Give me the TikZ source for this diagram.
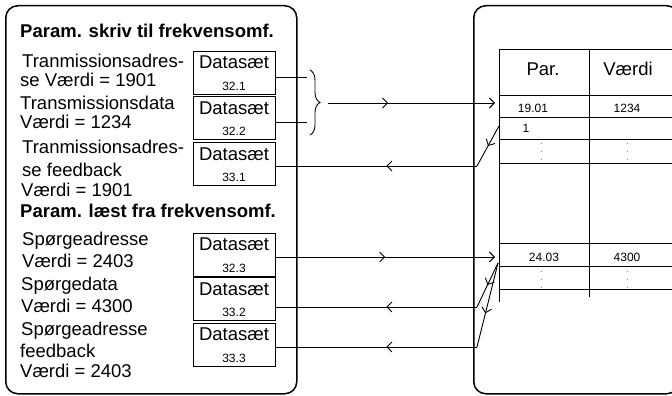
\documentclass[tikz,border=0pt]{standalone}
\usepackage{fontspec}
\setmainfont{Liberation Sans}
\usetikzlibrary{arrows.meta,decorations.pathreplacing,decorations.markings}
\tikzstyle{panel}=[draw,line width=1.5pt,rounded corners=12pt,inner sep=0pt]
\tikzstyle{dataset}=[draw,line width=0.9pt,minimum width=82pt,minimum height=43pt,inner sep=0pt]
\tikzstyle{txt}=[anchor=base west,inner sep=0pt,font=\fontsize{18.5}{20}\selectfont]
\tikzstyle{headtxt}=[txt,font=\fontsize{18.5}{20}\selectfont\bfseries]
\tikzstyle{big}=[anchor=base,inner sep=0pt,font=\fontsize{18.5}{20}\selectfont]
\tikzstyle{numtxt}=[anchor=base,inner sep=0pt,font=\fontsize{12}{14}\selectfont]
\tikzstyle{tabline}=[draw,line width=0.9pt]
\tikzstyle{vdots}=[draw=gray,line width=0.8pt,dash pattern=on 0.8pt off 7pt]
\tikzstyle{endarrow}=[-{Straight Barb[length=5pt,width=10pt]}]
\tikzset{flow/.style={draw,line width=0.9pt,postaction={decorate},
    decoration={markings,mark=at position #1 with {\arrow{Straight Barb[length=5pt,width=10pt]}}}},
  flow/.default=0.5}

\begin{document}
\begin{tikzpicture}[x=1pt,y=-1pt]
    \useasboundingbox (0,0) rectangle (672,396);
    \clip (0,0) rectangle (672,396);

    % The two panels, the right one runs off the page
    \node[panel,anchor=north west,minimum width=291pt,minimum height=388pt] (drive) at (5,5) {};
    \node[panel,anchor=north west,minimum width=205pt,minimum height=388pt] (plc) at (473,5) {};

    % Texts of the left panel
    \node[headtxt] (wtitle) at (20,38) {Param. skriv til frekvensomf.};
    \node[headtxt] (rtitle) at (20,217) {Param. læst fra frekvensomf.};
    \foreach \pos/\name/\txt in {{(22,67)/w1/Tranmissionsadres-}, {(20,86)/w2/se Værdi = 1901},
        {(20,110)/w3/Transmissionsdata}, {(20,128)/w4/Værdi = 1234},
        {(22,153)/w5/Tranmissionsadres-}, {(22,176)/w6/se feedback}, {(21,196)/w7/Værdi = 1901},
        {(22,245)/r1/Spørgeadresse}, {(22,267)/r2/Værdi = 2403},
        {(21,290)/r3/Spørgedata}, {(21,312)/r4/Værdi = 4300},
        {(21,335)/r5/Spørgeadresse}, {(20,357)/r6/feedback}, {(20,377)/r7/Værdi = 2403}}
        \node[txt] (\name) at \pos {\txt};

    % Data set boxes
    \foreach \y/\name/\num in {72.5/d321/32.1, 118/d322/32.2, 164/d331/33.1,
        254.5/d323/32.3, 299/d332/33.2, 344.5/d333/33.3} {
        \node[dataset] (\name) at (234,\y) {};
        \node[big] (\name-a) at (234,\y-4) {Datasæt};
        \node[numtxt] (\name-b) at (234,\y+17.5) {\num};
    }

    % Parameter table
    \foreach \y in {49,95,117,139,163,243,266,289}
        \draw[tabline] (499,\y) -- (680,\y);
    \draw[tabline] (499,49) -- (499,302);
    \draw[tabline] (589,49) -- (589,297);
    \node[big] (par) at (543,75) {Par.};
    \node[big] (vaerdi) at (628,75) {Værdi};
    \foreach \pos/\name/\txt in {{(533,112)/p1901/19.01}, {(627,112)/v1901/1234}, {(526,132)/p1/1},
        {(544,261)/p2403/24.03}, {(627,261)/v2403/4300}}
        \node[numtxt] (\name) at \pos {\txt};
    \foreach \x/\y in {541/143, 627/143, 541/271, 627/271}
        \draw[vdots] (\x,\y) -- (\x,\y+17);

    % Points where the connectors bend or end
    \coordinate (b1) at (307,77);
    \coordinate (b2) at (307,122);
    \coordinate (brtop) at (310,70);
    \coordinate (brbot) at (310,135);
    \coordinate (brtip) at (328,103);
    \coordinate (in1) at (495,103);
    \coordinate (in2) at (495,257);
    \coordinate (out1) at (499,126);
    \coordinate (out2) at (498,263);
    \coordinate (k1) at (477,166);
    \coordinate (k2) at (477,307);
    \coordinate (k3) at (477,347);

    % Writing: two data sets joined by a brace
    \draw[line width=0.9pt] (b1 -| d321.east) -- (b1);
    \draw[line width=0.9pt] (b2 -| d322.east) -- (b2);
    \draw[line width=0.9pt,decorate,decoration={brace,amplitude=10pt}] (brtop) -- (brbot);
    \draw[flow=0.36,endarrow] (brtip) -- (in1);
    \draw[flow] (out1) -- (k1);
    \draw[flow=0.45] (k1) -- (k1 -| d331.east);

    % Reading
    \draw[flow,endarrow] (in2 -| d323.east) -- (in2);
    \draw[flow] (out2) -- (k2);
    \draw[flow=0.45] (k2) -- (k2 -| d332.east);
    \draw[flow=0.6] (out2) -- (k3);
    \draw[flow=0.45] (k3) -- (k3 -| d333.east);
\end{tikzpicture}
\end{document}
